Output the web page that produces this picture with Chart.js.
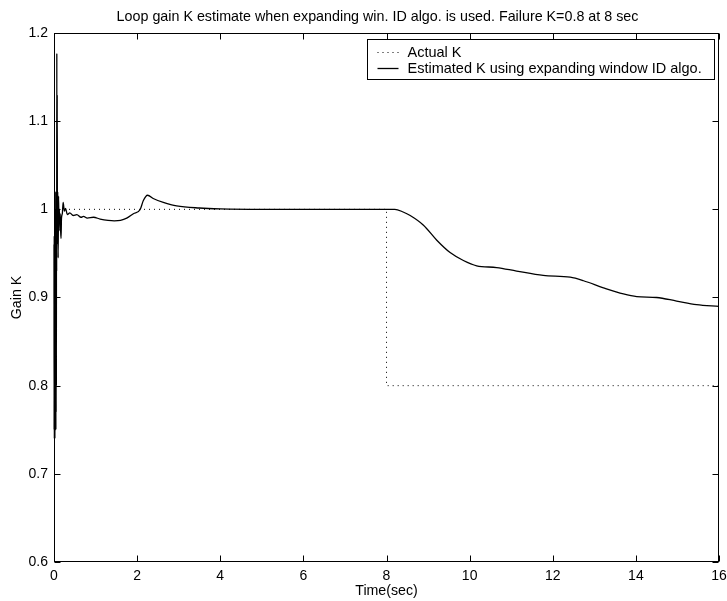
<!DOCTYPE html>
<html>
<head>
<meta charset="utf-8">
<script src="https://cdn.jsdelivr.net/npm/chart.js@4"></script>
<style>
body { margin: 0; background: #fff; }
#wrap { width: 727px; height: 601px; }
</style>
</head>
<body>
<div id="wrap"><canvas id="chart1" width="727" height="601"></canvas></div>
<script>
const chart1div = document.getElementById("chart1")

const titleText = "Loop gain K estimate when expanding win. ID algo. is used. Failure K=0.8 at 8 sec"
const xTicks = [0, 2, 4, 6, 8, 10, 12, 14, 16]
const yTicks = [0.6, 0.7, 0.8, 0.9, 1, 1.1, 1.2]
const seriesLabels = ["Actual K", "Estimated K using expanding window ID algo."]

// actual loop gain: step from 1 to 0.8 at 8 sec
const actualT = [0, 8, 8, 16]
const actualK = [1, 1, 0.8, 0.8]

// estimated gain (dense swings right after start)
const estT = [0, 0.003, 0.006, 0.009, 0.012, 0.015, 0.018, 0.021, 0.024, 0.027, 0.03, 0.033, 0.036,
    0.039, 0.042, 0.045, 0.048, 0.051, 0.054, 0.057, 0.06, 0.064, 0.068, 0.072, 0.077, 0.082, 0.09,
    0.1, 0.11, 0.12, 0.13, 0.14, 0.15, 0.16, 0.17, 0.18, 0.2, 0.22, 0.25, 0.28, 0.32, 0.38, 0.46,
    0.55, 0.65, 0.71, 0.8, 0.95, 1.11, 1.3, 1.45, 1.6, 1.75, 1.91, 2.07, 2.15, 2.25, 2.4, 2.63, 2.95,
    3.5, 4, 5, 8.2, 8.4, 8.57, 8.89, 9.21, 9.53, 9.85, 10.17, 10.65, 11.13, 11.77, 12.42, 12.74,
    13.22, 13.7, 14.02, 14.5, 14.98, 15.46, 16]
const estK = [0.96, 0.75, 0.97, 0.74, 0.96, 0.75, 0.99, 0.74, 0.97, 0.75, 1.0, 0.75, 0.96, 0.76,
    1.02, 0.75, 0.97, 0.77, 0.99, 0.8, 1.01, 0.93, 1.177, 0.96, 1.13, 0.97, 1.02,
    0.945, 1.015, 0.985, 1.0, 0.976, 0.995, 0.975, 0.967, 0.99, 0.995, 1.008, 0.998, 1.001, 0.994, 0.996, 0.993,
    0.994, 0.991, 0.992, 0.99, 0.991, 0.989, 0.9875, 0.987, 0.9875, 0.99, 0.995, 0.9995, 1.01, 1.016, 1.012, 1.008, 1.004,
    1.0015, 1.0005, 1.0, 1.0, 0.997, 0.993, 0.982, 0.965, 0.951, 0.942, 0.936, 0.934, 0.93, 0.925, 0.923, 0.919,
    0.911, 0.904, 0.901, 0.9, 0.896, 0.892, 0.89]

const font = "'Liberation Sans', Arial, sans-serif"

// matlab style title, box, inward ticks and boxed legend
const matlabBox = {
    id: "matlabBox",
    afterDraw(chart) {
        const { ctx, chartArea: a, scales: { x, y } } = chart
        const L = Math.round(a.left) + 0.5, R = Math.round(a.right) - 0.5
        const T = Math.round(a.top) + 0.5, B = Math.round(a.bottom) - 0.5
        ctx.save()
        ctx.fillStyle = "#000"
        ctx.font = "14.3px " + font
        ctx.textAlign = "center"
        ctx.textBaseline = "alphabetic"
        ctx.fillText(titleText, 377.5, 20.5)

        ctx.strokeStyle = "#000"
        ctx.lineWidth = 1
        ctx.strokeRect(L, T, R - L, B - T)
        ctx.beginPath()
        xTicks.forEach(v => {
            const px = Math.round(x.getPixelForValue(v)) + 0.5
            ctx.moveTo(px, B); ctx.lineTo(px, B - 6)
            ctx.moveTo(px, T); ctx.lineTo(px, T + 6)
        })
        yTicks.forEach(v => {
            const py = Math.round(y.getPixelForValue(v)) + 0.5
            ctx.moveTo(L, py); ctx.lineTo(L + 6, py)
            ctx.moveTo(R, py); ctx.lineTo(R - 6, py)
        })
        ctx.stroke()

        // legend
        ctx.font = "14.5px " + font
        ctx.textAlign = "left"
        const textW = Math.max(...seriesLabels.map(s => ctx.measureText(s).width))
        const w = Math.round(textW + 53), h = 40
        const bx = Math.round(a.right) - 5 - w + 0.5, by = Math.round(a.top) + 6 + 0.5
        ctx.fillStyle = "#fff"
        ctx.fillRect(bx, by, w, h)
        ctx.strokeRect(bx, by, w, h)
        ctx.fillStyle = "#000"
        ctx.textBaseline = "middle"
        seriesLabels.forEach((s, i) => {
            const ly = Math.round(by + 12 + i * 16) + 0.5
            const ds = chart.data.datasets[i]
            ctx.beginPath()
            ctx.setLineDash(ds.borderDash || [])
            ctx.lineWidth = ds.borderWidth
            ctx.moveTo(bx + 10, ly); ctx.lineTo(bx + 31, ly)
            ctx.stroke()
            ctx.setLineDash([])
            ctx.fillText(s, bx + 40, ly)
        })
        ctx.restore()
    }
}

new Chart(chart1div, {
    type: "scatter",
    data: {
        datasets: [{
            label: seriesLabels[0],
            data: actualT.map((t, i) => ({ x: t, y: actualK[i] })),
            showLine: true,
            borderColor: "#000",
            borderWidth: 1,
            borderDash: [1, 4],
            pointRadius: 0
        }, {
            label: seriesLabels[1],
            data: estT.map((t, i) => ({ x: t, y: estK[i] })),
            showLine: true,
            borderColor: "#000",
            borderWidth: 1.3,
            pointRadius: 0,
            clip: 3,
            cubicInterpolationMode: "monotone"
        }]
    },
    options: {
        responsive: false,
        animation: false,
        layout: { padding: { left: 0, right: 8, top: 33, bottom: 0 } },
        plugins: {
            legend: { display: false },
            tooltip: { enabled: false },
            title: { display: false }
        },
        scales: {
            x: {
                type: "linear",
                min: 0,
                max: 16,
                afterBuildTicks: s => { s.ticks = xTicks.map(v => ({ value: v })) },
                afterFit: s => { s.height = 39; s.paddingLeft = 0; s.paddingRight = 0 },
                grid: { display: false, drawTicks: false },
                border: { display: false },
                ticks: { color: "#000", padding: 6, maxRotation: 0, font: { family: font, size: 14 } },
                title: { display: true, text: "Time(sec)", color: "#000", padding: { top: 0, bottom: 1 }, font: { family: font, size: 14.2 } }
            },
            y: {
                type: "linear",
                min: 0.6,
                max: 1.2,
                afterBuildTicks: s => { s.ticks = yTicks.map(v => ({ value: v })) },
                afterFit: s => { s.width = 54 },
                grid: { display: false, drawTicks: false },
                border: { display: false },
                ticks: {
                    color: "#000", padding: 6, font: { family: font, size: 14 },
                    callback: v => String(Number(v.toFixed(1)))
                },
                title: { display: true, text: "Gain K", color: "#000", padding: { top: 9, bottom: 0 }, font: { family: font, size: 14.2 } }
            }
        }
    },
    plugins: [matlabBox]
});
</script>
</body>
</html>
